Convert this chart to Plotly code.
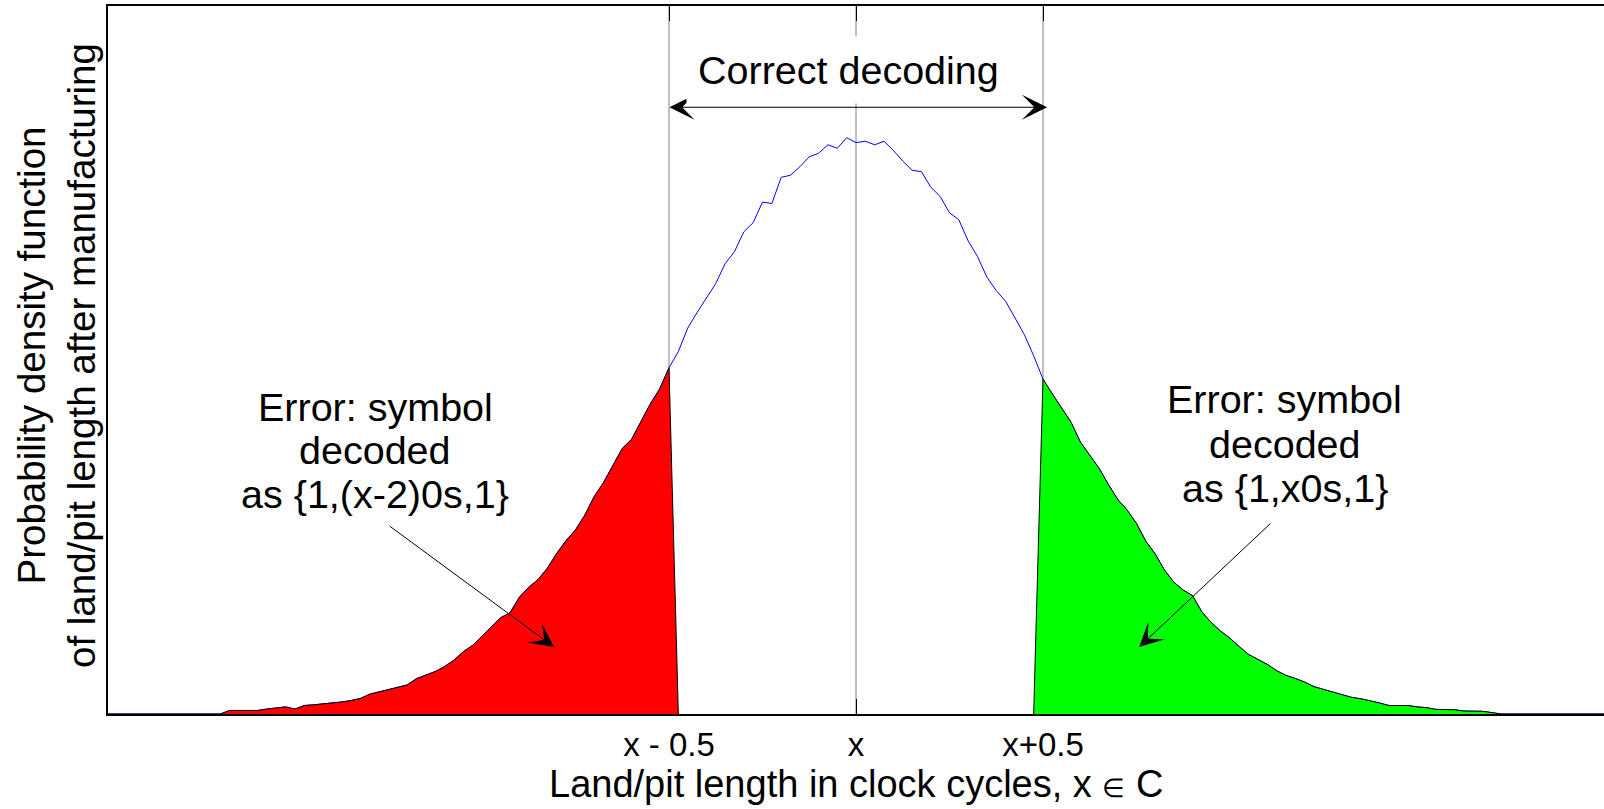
import plotly.graph_objects as go

# ---------------- data ----------------
BIN_START = -2.0
BIN_WIDTH = 0.025
# histogram density (arbitrary units), one value per bin
density = [
    0, 0, 0, 0, 0, 0, 0, 0, 0, 0,
    0, 0, 0, 0.005, 0.005, 0.005, 0.005, 0.007, 0.008, 0.010,
    0.007, 0.012, 0.013, 0.014, 0.015, 0.017, 0.019, 0.022, 0.028, 0.031,
    0.034, 0.038, 0.041, 0.050, 0.055, 0.060, 0.067, 0.076, 0.088, 0.097,
    0.110, 0.123, 0.136, 0.143, 0.165, 0.179, 0.190, 0.206, 0.227, 0.245,
    0.260, 0.281, 0.307, 0.327, 0.351, 0.375, 0.388, 0.412, 0.438, 0.459,
    0.489, 0.512, 0.545, 0.567, 0.587, 0.608, 0.636, 0.653, 0.681, 0.694,
    0.723, 0.721, 0.758, 0.761, 0.773, 0.787, 0.792, 0.804, 0.799, 0.814,
    0.807, 0.809, 0.804, 0.809, 0.796, 0.781, 0.768, 0.766, 0.744, 0.731,
    0.708, 0.698, 0.668, 0.646, 0.617, 0.598, 0.583, 0.560, 0.536, 0.506,
    0.473, 0.452, 0.432, 0.412, 0.384, 0.365, 0.347, 0.324, 0.303, 0.288,
    0.269, 0.244, 0.226, 0.203, 0.186, 0.175, 0.167, 0.144, 0.129, 0.117,
    0.107, 0.095, 0.084, 0.077, 0.070, 0.061, 0.0545, 0.050, 0.045, 0.0385,
    0.035, 0.0315, 0.027, 0.0235, 0.0215, 0.019, 0.0155, 0.012, 0.012, 0.012,
    0.010, 0.009, 0.0066, 0.0066, 0.006, 0.0042, 0.0042, 0.0038, 0.002, 0,
    0, 0, 0, 0, 0, 0, 0, 0, 0, 0,
    0,
]
x_bins = [BIN_START + i * BIN_WIDTH for i in range(len(density))]

# decision boundaries and tick labels
boundaries = [-0.5, 0.0, 0.5]
tick_labels = ["x - 0.5", "x", "x+0.5"]

# ---------------- figure ----------------
FONT = "Arial, Liberation Sans, Helvetica, sans-serif"
TXT = 39.5
fig = go.Figure()

# full density curve (blue)
fig.add_trace(go.Scatter(x=x_bins, y=density, mode="lines",
                         line=dict(color="#0000ff", width=1), hoverinfo="skip"))

# red tail: below x-0.5
i_lo = min(range(len(x_bins)), key=lambda i: abs(x_bins[i] - boundaries[0]))
red_x = x_bins[:i_lo + 1] + [x_bins[i_lo + 1]]
red_y = density[:i_lo + 1] + [0]
fig.add_trace(go.Scatter(x=red_x, y=red_y, mode="lines", fill="toself",
                         fillcolor="#ff0000", line=dict(color="black", width=1),
                         hoverinfo="skip"))

# green tail: above x+0.5
i_hi = min(range(len(x_bins)), key=lambda i: abs(x_bins[i] - boundaries[2]))
green_x = [x_bins[i_hi - 1]] + x_bins[i_hi:]
green_y = [0] + density[i_hi:]
fig.add_trace(go.Scatter(x=green_x, y=green_y, mode="lines", fill="toself",
                         fillcolor="#00ff00", line=dict(color="black", width=1),
                         hoverinfo="skip"))

# vertical grey lines at the boundaries
for b in boundaries:
    fig.add_shape(type="line", xref="x", yref="paper", x0=b, x1=b, y0=0, y1=1,
                  line=dict(color="#808080", width=1), layer="below")

ann = []
# double-headed arrow "Correct decoding"
ARROW_Y = 0.857
ann.append(dict(xref="x", yref="y", axref="x", ayref="y",
                x=0.511, y=ARROW_Y, ax=-0.503, ay=ARROW_Y, text="",
                showarrow=True, arrowhead=3, startarrowhead=3, arrowside="end+start",
                arrowsize=3.5, startarrowsize=3.5, arrowwidth=1.2, arrowcolor="black",
                standoff=0, startstandoff=0))
ann.append(dict(xref="x", yref="paper", x=-0.02, y=1, yshift=-64,
                xanchor="center", yanchor="middle", showarrow=False,
                text="Correct decoding", bgcolor="white", borderpad=11,
                font=dict(family=FONT, size=TXT, color="black")))

# error text blocks
left_lines = ["Error: symbol", "decoded", "as {1,(x-2)0s,1}"]
left_y = [0.4336, 0.3729, 0.3107]
right_lines = ["Error: symbol", "decoded", "as {1,x0s,1}"]
right_y = [0.445, 0.3814, 0.3193]
for t, yv in zip(left_lines, left_y):
    ann.append(dict(xref="x", yref="y", x=-1.286, y=yv, text=t, showarrow=False,
                    xanchor="center", yanchor="middle",
                    font=dict(family=FONT, size=TXT, color="black")))
for t, yv in zip(right_lines, right_y):
    ann.append(dict(xref="x", yref="y", x=1.147, y=yv, text=t, showarrow=False,
                    xanchor="center", yanchor="middle",
                    font=dict(family=FONT, size=TXT, color="black")))

# pointer arrows
ann.append(dict(xref="x", yref="y", axref="x", ayref="y",
                x=-0.8075, y=0.0946, ax=-1.251, ay=0.267, text="",
                showarrow=True, arrowhead=3, arrowsize=4, arrowwidth=1,
                arrowcolor="black", standoff=0))
ann.append(dict(xref="x", yref="y", axref="x", ayref="y",
                x=0.757, y=0.0946, ax=1.112, ay=0.271, text="",
                showarrow=True, arrowhead=3, arrowsize=4, arrowwidth=1,
                arrowcolor="black", standoff=0))

# axis titles
ann.append(dict(xref="x", yref="paper", x=0, y=0, yshift=-70,
                xanchor="center", yanchor="middle", showarrow=False,
                text="Land/pit length in clock cycles, x <span style='font-size:26px'>\u2208</span> C",
                font=dict(family=FONT, size=38, color="black")))
ann.append(dict(xref="paper", yref="paper", x=0, y=0.5, xshift=-52, yshift=4,
                xanchor="center", yanchor="middle", showarrow=False, textangle=-90,
                text="Probability density function<br>of land/pit length after manufacturing",
                font=dict(family=FONT, size=38.5, color="black")))

fig.update_layout(
    width=1604, height=809,
    margin=dict(l=108, r=0, t=6, b=95),
    plot_bgcolor="white", paper_bgcolor="white",
    showlegend=False,
    annotations=ann,
    xaxis=dict(range=[-2, 2], tickvals=boundaries, ticktext=tick_labels,
               ticks="inside", ticklen=15, tickwidth=1, tickcolor="black",
               showline=True, linecolor="black", linewidth=2, mirror="ticks",
               showgrid=False, zeroline=False, layer="below traces",
               tickfont=dict(family=FONT, size=33, color="black")),
    yaxis=dict(range=[0, 1], showline=True, linecolor="black", linewidth=2,
               showticklabels=False, ticks="", showgrid=False, zeroline=False,
               layer="below traces"),
)

fig.write_html("out.html", config={"displayModeBar": False},
               post_script="document.body.style.margin='0';document.body.style.overflow='hidden';")
